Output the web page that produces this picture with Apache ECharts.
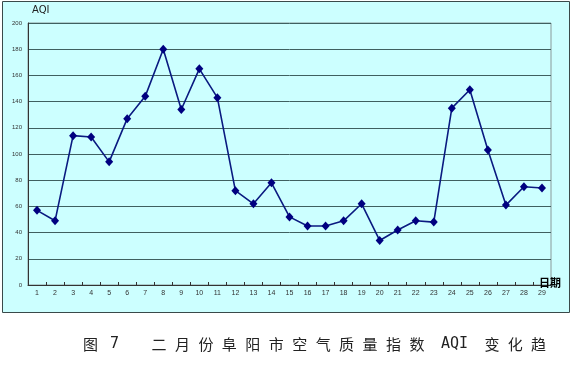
<!DOCTYPE html>
<html>
<head>
<meta charset="utf-8">
<script src="https://cdn.jsdelivr.net/npm/echarts@6/dist/echarts.min.js"></script>
<style>
html,body{margin:0;padding:0;background:#fff;}
#chart{width:572px;height:369px;position:absolute;left:0;top:0;}
.cap{position:absolute;top:335px;font-family:"Noto Sans CJK SC";font-size:15px;line-height:17px;color:#222;white-space:pre;}
.mono{font-family:"DejaVu Sans Mono","Liberation Mono";}
</style>
</head>
<body>
<div id="chart"></div>
<div class="cap" style="left:83px;">图</div>
<div class="cap mono" style="left:110px;">7</div>
<div class="cap" style="left:151.5px;letter-spacing:8.45px;">二月份阜阳市空气质量指数</div>
<div class="cap mono" style="left:441px;">AQI</div>
<div class="cap" style="left:484.5px;letter-spacing:8.3px;">变化趋</div>
<script>
const days = ['1','2','3','4','5','6','7','8','9','10','11','12','13','14','15','16','17','18','19','20','21','22','23','24','25','26','27','28','29'];
const aqi = [57,49,114,113,94,127,144,180,134,165,143,72,62,78,52,45,45,49,62,34,42,49,48,135,149,103,61,75,74];
const yTicks = [0,20,40,60,80,100,120,140,160,180,200];

const chart = echarts.init(document.getElementById('chart'), null, {renderer:'canvas'});
chart.setOption({
  animation:false,
  backgroundColor:'#fff',
  graphic:[{
    type:'rect', z:-10, silent:true,
    shape:{x:2.5,y:1.5,width:567,height:311},
    style:{fill:'#ccffff',stroke:'#3a4a4a',lineWidth:1}
  },{
    type:'text', z:100, silent:true, left:539, top:277,
    style:{text:'日期',font:'bold 11px "Noto Sans CJK SC"',fill:'#000'}
  }],
  grid:{left:28,right:21,top:23,bottom:84,show:true,borderColor:'#8a9a9a',borderWidth:1,backgroundColor:'transparent'},
  xAxis:{
    type:'category', data:days, boundaryGap:true,
    axisLine:{lineStyle:{color:'#333',width:1}},
    axisTick:{show:true,inside:true,length:3,lineStyle:{color:'#333'}},
    axisLabel:{fontSize:7,color:'#333',margin:5,interval:0,fontFamily:'Liberation Sans'}
  },
  yAxis:{
    type:'value', min:0, max:200, interval:20,
    name:'AQI', nameLocation:'end', nameGap:8,
    nameTextStyle:{fontSize:10,color:'#222',align:'left',padding:[0,0,0,4],fontFamily:'DejaVu Sans'},
    axisLine:{show:true,lineStyle:{color:'#333',width:1}},
    axisTick:{show:false},
    axisLabel:{fontSize:6,color:'#333',margin:6,fontFamily:'Liberation Sans',
      formatter:function(v){return yTicks.indexOf(v)>=0?String(v):'';}},
    splitLine:{show:true,lineStyle:{color:'#3f6060',width:1}}
  },
  series:[{
    type:'line', data:aqi,
    symbol:'diamond', symbolSize:[8,9],
    lineStyle:{color:'#0a1a80',width:1.6},
    itemStyle:{color:'#000080'}
  }]
});
</script>
</body>
</html>
